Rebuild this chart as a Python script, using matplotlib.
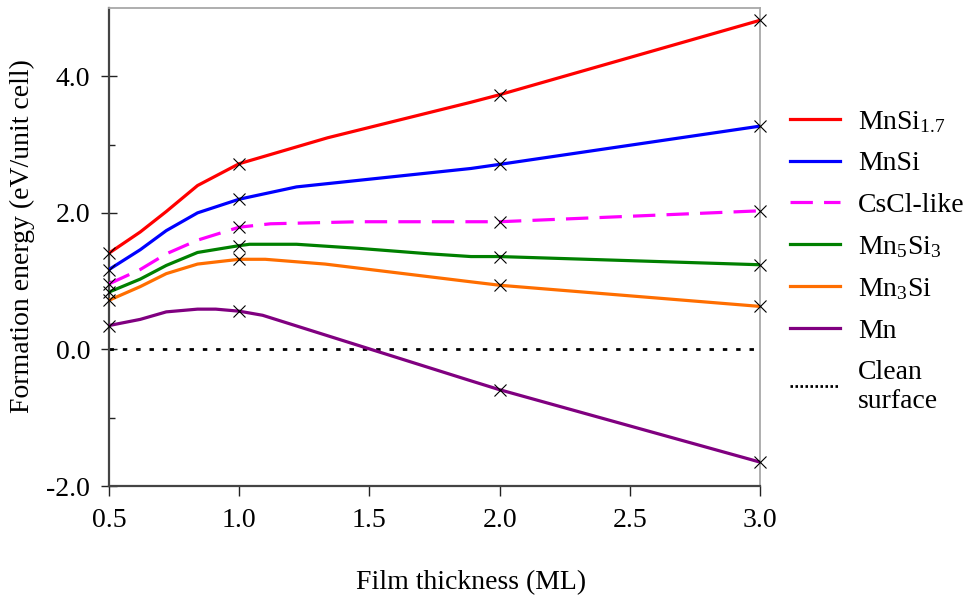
import matplotlib
matplotlib.use("Agg")
import matplotlib.pyplot as plt
from matplotlib.lines import Line2D

plt.rcParams['font.family'] = ['Liberation Serif', 'DejaVu Serif']
plt.rcParams['mathtext.fontset'] = 'custom'
plt.rcParams['mathtext.rm'] = 'Liberation Serif'
plt.rcParams['mathtext.it'] = 'Liberation Serif:italic'
plt.rcParams['mathtext.default'] = 'regular'

# ---- data ----
marker_x = [0.5, 1.0, 2.0, 3.0]

labels = [r'MnSi$_{1.7}$', 'MnSi', 'CsCl-like', r'Mn$_5$Si$_3$', r'Mn$_3$Si', 'Mn']
colors = ['#FF0000', '#0000FF', '#FF00FF', '#008000', '#FF6E00', '#800080']

mnsi17_marker = [1.41, 2.72, 3.73, 4.82]
mnsi_marker = [1.17, 2.20, 2.71, 3.27]
cscl_marker = [0.96, 1.79, 1.87, 2.03]
mn5si3_marker = [0.84, 1.52, 1.36, 1.24]
mn3si_marker = [0.72, 1.32, 0.94, 0.63]
mn_marker = [0.35, 0.56, -0.59, -1.65]

mnsi17_cx = [0.5, 0.62, 0.72, 0.84, 1.0, 1.34, 1.89, 2.0, 3.0]
mnsi17_cy = [1.41, 1.72, 2.02, 2.40, 2.72, 3.10, 3.62, 3.73, 4.82]
mnsi_cx = [0.5, 0.62, 0.72, 0.84, 1.0, 1.22, 1.89, 2.0, 3.0]
mnsi_cy = [1.17, 1.46, 1.74, 2.00, 2.20, 2.38, 2.65, 2.71, 3.27]
cscl_cx = [0.5, 0.62, 0.72, 0.84, 1.0, 1.12, 1.46, 2.0, 3.0]
cscl_cy = [0.96, 1.17, 1.40, 1.60, 1.79, 1.84, 1.87, 1.87, 2.03]
mn5si3_cx = [0.5, 0.62, 0.72, 0.84, 1.0, 1.04, 1.22, 1.46, 1.73, 1.89, 2.0, 3.0]
mn5si3_cy = [0.84, 1.03, 1.23, 1.42, 1.52, 1.54, 1.54, 1.48, 1.40, 1.36, 1.36, 1.24]
mn3si_cx = [0.5, 0.62, 0.72, 0.84, 1.0, 1.10, 1.33, 1.89, 2.0, 3.0]
mn3si_cy = [0.72, 0.92, 1.11, 1.25, 1.32, 1.32, 1.25, 0.99, 0.94, 0.63]
mn_cx = [0.5, 0.62, 0.72, 0.84, 0.91, 1.0, 1.09, 1.34, 1.89, 2.0, 3.0]
mn_cy = [0.35, 0.44, 0.55, 0.59, 0.59, 0.56, 0.50, 0.20, -0.46, -0.59, -1.65]

clean_x = [0.5, 2.99]
clean_y = [0.0, 0.0]

curves = [(mnsi17_cx, mnsi17_cy), (mnsi_cx, mnsi_cy), (cscl_cx, cscl_cy),
          (mn5si3_cx, mn5si3_cy), (mn3si_cx, mn3si_cy), (mn_cx, mn_cy)]
markers = [mnsi17_marker, mnsi_marker, cscl_marker, mn5si3_marker, mn3si_marker, mn_marker]

xticks = [0.5, 1.0, 1.5, 2.0, 2.5, 3.0]
xticklabels = ['0.5', '1.0', '1.5', '2.0', '2.5', '3.0']
yticks = [-2.0, 0.0, 2.0, 4.0]
yticklabels = ['-2.0', '0.0', '2.0', '4.0']
yminor = [-1.0, 1.0, 3.0]

FS = 20

# ---- figure ----
W, H = 965, 606
fig = plt.figure(figsize=(W / 100, H / 100), dpi=100)
ax = fig.add_axes([109 / W, 1 - 486 / H, (760 - 109) / W, (486 - 8) / H])

handles = []
for (cx, cy), mk, lab, col in zip(curves, markers, labels, colors):
    if lab == 'CsCl-like':
        ln, = ax.plot(cx, cy, color=col, lw=2.3, dashes=(7, 3.5), label=lab, zorder=3)
    else:
        ln, = ax.plot(cx, cy, color=col, lw=2.3, label=lab, zorder=3)
    handles.append(ln)
    ax.plot(marker_x, mk, linestyle='none', marker='x', color='black',
            markersize=8.5, markeredgewidth=0.8, zorder=4, clip_on=False)

ax.plot(clean_x, clean_y, color='black', lw=2.0, dashes=(1.6, 3.2), zorder=2)
handles.append(Line2D([], [], color='black', lw=2.0, dashes=(0.9, 0.9)))
legend_labels = labels + ['Clean\nsurface']

ax.set_xlim(0.5, 3.0)
ax.set_ylim(-2.0, 5.0)
ax.set_xticks(xticks)
ax.set_xticklabels(xticklabels)
ax.set_yticks(yticks)
ax.set_yticklabels(yticklabels)
ax.set_yticks(yminor, minor=True)

ax.tick_params(axis='y', which='major', direction='inout', length=11, width=1.0,
               labelsize=FS, pad=8, color='#222222')
ax.tick_params(axis='y', which='minor', direction='in', length=4.5, width=1.0,
               color='#222222')
ax.tick_params(axis='x', which='major', direction='out', length=7, width=1.0,
               labelsize=FS, pad=9, color='#222222')

for s in ['left', 'bottom']:
    ax.spines[s].set_color('#444444')
    ax.spines[s].set_linewidth(1.6)
for s in ['top', 'right']:
    ax.spines[s].set_color('#A8A8A8')
    ax.spines[s].set_linewidth(1.3)

fig.text(22 / W, 1 - 236 / H, 'Formation energy (eV/unit cell)', rotation=90,
         ha='center', va='center', fontsize=FS)
fig.text(471 / W, 1 - 583 / H, 'Film thickness (ML)', ha='center', va='center',
         fontsize=FS)

fig.legend(handles=handles, labels=legend_labels, loc='upper left',
           bbox_to_anchor=(790 / W, 1 - 109 / H),
           frameon=False, fontsize=FS, handlelength=1.8, handletextpad=0.65,
           labelspacing=0.58, borderaxespad=0, borderpad=0)

fig.savefig('out.png', dpi=100)
